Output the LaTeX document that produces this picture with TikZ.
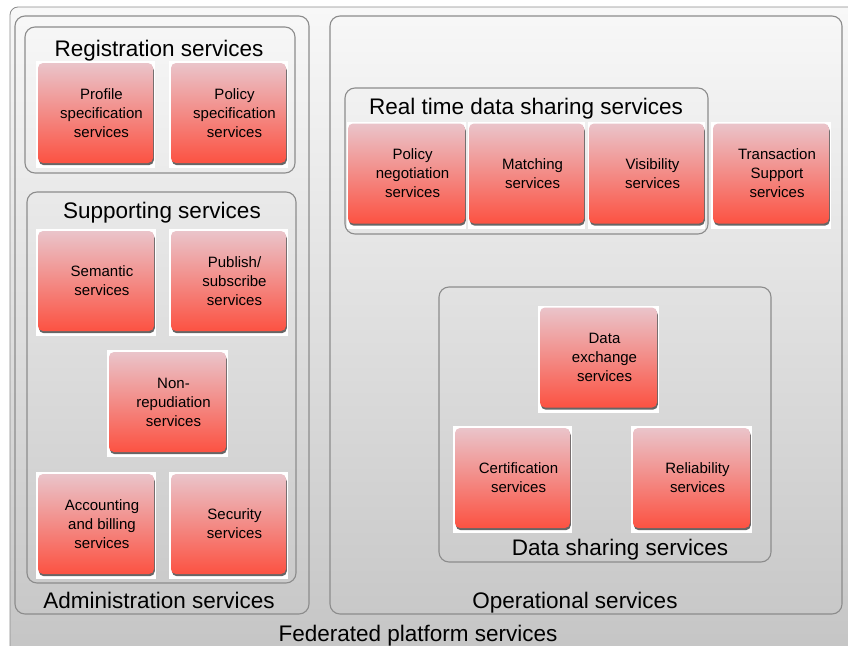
\documentclass[tikz,border=0pt]{standalone}
\usepackage{fontspec}
\setmainfont{Liberation Sans}
\usetikzlibrary{shadows}
\definecolor{boxtop}{RGB}{234,196,202}
\definecolor{boxbot}{RGB}{252,82,66}
\definecolor{frame}{RGB}{140,140,140}
\definecolor{bgtop}{RGB}{248,248,248}
\definecolor{bgbot}{RGB}{196,196,196}
\tikzset{
  redbox/.style={rounded corners=5pt, top color=boxtop, bottom color=boxbot,
    draw=none, minimum width=#1, minimum height=100pt, inner sep=0pt,
    drop shadow={shadow xshift=0.8pt, shadow yshift=-2.2pt, opacity=0.75, fill=black!80}},
  redbox/.default=115pt,
  boxtext/.style={font=\fontsize{15}{19}\selectfont, align=center, inner sep=0pt},
  group/.style={draw=frame, line width=1.1pt, rounded corners=10pt},
  grouptitle/.style={font=\fontsize{22.5}{26}\selectfont, inner sep=0pt, anchor=base},
}
\newcommand{\svcbox}[6]{% name, cx, cy, width, whitepad, text
  \fill[white] (#2-#4/2-#5,#3-52) rectangle (#2+#4/2+#5,#3+55);
  \node[redbox=#4pt] (#1) at (#2,#3) {};
  \node[boxtext] (#1t) at (#2+6,#3) {#6};
}
\begin{document}
\begin{tikzpicture}[x=1pt,y=-1pt]
\useasboundingbox (0,0) rectangle (848,645);
\fill[white] (0,0) rectangle (848,645);
% federated frame
\begin{scope}
\clip (0,0) rectangle (848,645);
\draw[rounded corners=8pt, top color=bgtop, bottom color=bgbot, draw=black!45, line width=0.8pt]
  (10,7) rectangle (870,665);
\end{scope}
% groups
\draw[group] (15,16) rectangle (309,614);
\draw[group] (330,16) rectangle (842,614);
\draw[group] (25,27) rectangle (295,173);
\draw[group] (27,192) rectangle (296,583);
\draw[group] (345,88) rectangle (708,234);
\draw[group] (439,287) rectangle (771,562);
% titles
\node[grouptitle] (tReg) at (159,56) {Registration services};
\node[grouptitle] (tSup) at (162,218) {Supporting services};
\node[grouptitle] (tRt) at (526,114) {Real time data sharing services};
\node[grouptitle] (tAdm) at (159,608) {Administration services};
\node[grouptitle] (tOp) at (575,608) {Operational services};
\node[grouptitle] (tDs) at (620,555) {Data sharing services};
\node[grouptitle] (tFed) at (418,641) {Federated platform services};
% service boxes
\svcbox{prof}{95.5}{113}{115}{2}{Profile\\specification\\services}
\svcbox{polspec}{228.5}{113}{115}{2}{Policy\\specification\\services}
\svcbox{sem}{96}{281}{116}{2}{Semantic\\services}
\svcbox{pub}{228.5}{281}{115}{2}{Publish/\\subscribe\\services}
\svcbox{nonrep}{167.5}{402}{117}{2}{Non-\\repudiation\\services}
\svcbox{acc}{96}{524}{116}{2}{Accounting\\and billing\\services}
\svcbox{sec}{228.5}{524}{115}{2}{Security\\services}
\svcbox{polneg}{406.5}{173.5}{117}{1}{Policy\\negotiation\\services}
\svcbox{match}{526.5}{173.5}{115}{1}{Matching\\services}
\svcbox{vis}{646.5}{173.5}{115}{1}{Visibility\\services}
\svcbox{trans}{771}{173.5}{116}{2}{Transaction\\Support\\services}
\svcbox{dex}{598.5}{357.5}{117}{2}{Data\\exchange\\services}
\svcbox{cert}{512.5}{478}{115}{2}{Certification\\services}
\svcbox{rel}{691.5}{478}{117}{2}{Reliability\\services}
\end{tikzpicture}
\end{document}
